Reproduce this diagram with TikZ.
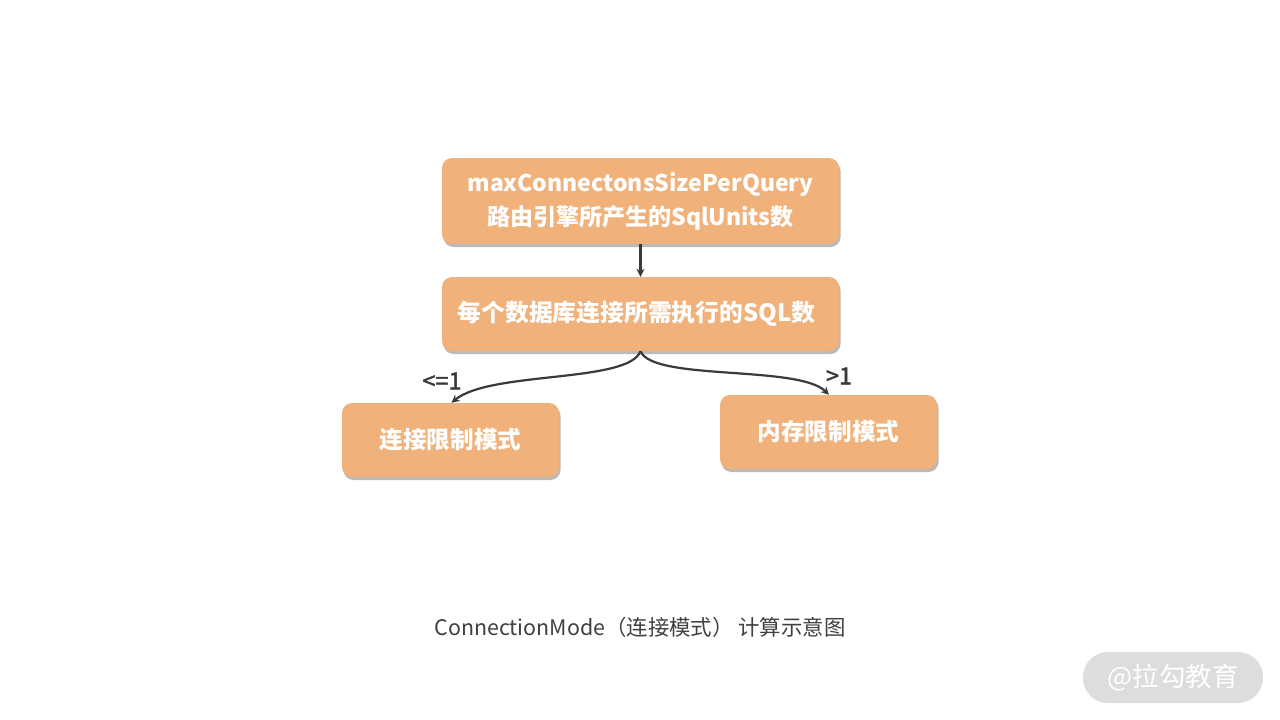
\documentclass[tikz,border=0pt]{standalone}
\usepackage{fontspec}
\setmainfont{Noto Sans CJK SC}
\newfontfamily\medfont{Noto Sans CJK SC}[FakeBold=1.6]
\usetikzlibrary{shadows,arrows.meta}
\definecolor{boxfill}{RGB}{240,178,122}
\definecolor{linec}{RGB}{58,58,58}
\definecolor{capc}{RGB}{64,64,64}
\definecolor{wmfill}{RGB}{221,221,221}
\tikzset{
  box/.style={fill=boxfill, rounded corners=10pt, draw=none, text=white,
    font=\bfseries\fontsize{23}{34}\selectfont, align=center, inner sep=0pt,
    drop shadow={shadow xshift=1.5pt, shadow yshift=-3pt, opacity=0.45, fill=black!60}},
  conn/.style={draw=linec, line width=2.2pt, -{Stealth[length=8pt,width=8pt]}},
  lbl/.style={text=linec, font=\medfont\fontsize{23.5}{26}\selectfont, inner sep=0pt},
}
\begin{document}
\begin{tikzpicture}[x=1pt,y=-1pt]
\useasboundingbox (0,0) rectangle (1280,720);
\fill[white] (0,0) rectangle (1280,720);
\node[box, minimum width=397pt, minimum height=86pt] (top) at (640.5,201)
  {maxConnectonsSizePerQuery\\路由引擎所产生的SqlUnits数};
\node[box, minimum width=397pt, minimum height=74pt, font=\bfseries\fontsize{23.8}{26}\selectfont] (mid) at (640.5,314)
  {\hspace*{-8pt}每个数据库连接所需执行的SQL数};
\node[box, minimum width=217pt, minimum height=74pt, font=\bfseries\fontsize{23.6}{26}\selectfont] (left) at (450.5,440) {连接限制模式};
\node[box, minimum width=217pt, minimum height=74pt, font=\bfseries\fontsize{23.6}{26}\selectfont] (right) at (828.5,432) {内存限制模式};
\draw[conn] (top.south) -- (mid.north);
\draw[conn] (mid.south) .. controls ([xshift=-12pt,yshift=-32pt]mid.south) and ([xshift=40pt,yshift=32pt]left.north) .. ([xshift=1pt]left.north);
\draw[conn] (mid.south) .. controls ([xshift=12pt,yshift=-30pt]mid.south) and ([xshift=-30pt,yshift=30pt]right.north) .. ([xshift=0.5pt]right.north);
\node[lbl] (l1) at (442,381) {<=1};
\node[lbl] (l2) at (839,376) {>1};
\node[text=capc, font=\fontsize{21.4}{24}\selectfont, inner sep=0pt] (cap) at (640,627) {ConnectionMode（连接模式） 计算示意图};
\node[fill=wmfill, rounded corners=25pt, minimum width=180pt, minimum height=51pt, inner sep=0pt,
  text=white, font=\fontsize{26.5}{28}\selectfont] (wm) at (1173,677.5) {@拉勾教育};
\end{tikzpicture}
\end{document}
